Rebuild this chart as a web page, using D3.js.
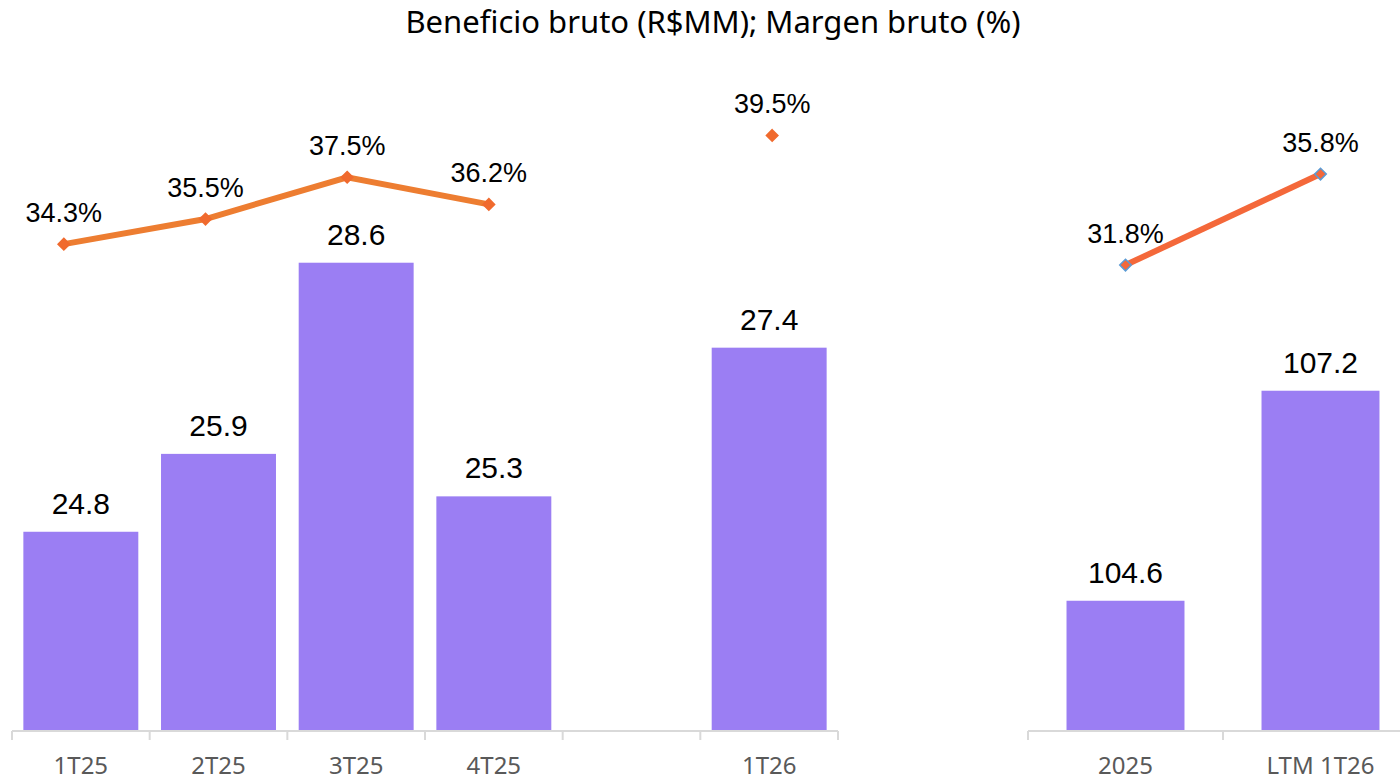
<!DOCTYPE html>
<html>
<head>
<meta charset="utf-8">
<script src="https://cdn.jsdelivr.net/npm/d3@7"></script>
<style>
  body { margin: 0; background: #fff; }
  svg { display: block; }
</style>
</head>
<body>
<div id="chart"></div>
<script>
// quarterly panel
let quarters = ["1T25", "2T25", "3T25", "4T25", "", "1T26"];
let quarterProfit = [24.8, 25.9, 28.6, 25.3, null, 27.4];
let quarterMargin = [34.3, 35.5, 37.5, 36.2, null, 39.5];

// annual panel
let years = ["2025", "LTM 1T26"];
let yearProfit = [104.6, 107.2];
let yearMargin = [31.8, 35.8];

let W = 1400, H = 780;
let baseY = 730;
let barColor = "#9B7EF3";
let axisColor = "#D9D9D9";
let labelFont = "'Liberation Sans', Arial, sans-serif";

let svg = d3.select("#chart").append("svg")
    .attr("width", W)
    .attr("height", H);

//title
svg.append("text")
    .attr("x", 713)
    .attr("y", 33)
    .style("text-anchor", "middle")
    .style("font-family", "'Noto Sans', sans-serif")
    .style("font-size", "31px")
    .style("fill", "#000")
    .text("Beneficio bruto (R$MM); Margen bruto (%)");

/**
 * draw one panel: bars + margin line + category axis
 */
function drawPanel(cats, profit, margin, opt) {
    let g = svg.append("g");

    let x = d3.scaleBand().domain(cats).range(opt.xRange).paddingInner(opt.pad).paddingOuter(opt.pad / 2);
    let xLine = d3.scaleBand().domain(cats).range(opt.lineRange);
    let y = d3.scaleLinear().domain(opt.barDomain).range([baseY, opt.barTop]);
    let yM = d3.scaleLinear().domain(opt.lineDomain).range(opt.lineYRange);

    let rows = cats.map(function (c, i) {
        return {cat: c, v: profit[i], m: margin[i]};
    });

    // bars
    g.selectAll("rect.bar")
        .data(rows.filter(function (d) { return d.v != null; }))
        .enter().append("rect")
        .attr("class", "bar")
        .attr("x", function (d) { return x(d.cat); })
        .attr("y", function (d) { return y(d.v); })
        .attr("width", x.bandwidth())
        .attr("height", function (d) { return baseY - y(d.v); })
        .style("fill", barColor);

    // bar values
    g.selectAll("text.val")
        .data(rows.filter(function (d) { return d.v != null; }))
        .enter().append("text")
        .attr("class", "val")
        .attr("x", function (d) { return x(d.cat) + x.bandwidth() / 2; })
        .attr("y", function (d) { return y(d.v) - 18; })
        .style("text-anchor", "middle")
        .style("font-family", labelFont)
        .style("font-size", "30px")
        .style("fill", "#000")
        .text(function (d) { return d.v.toFixed(1); });

    // axis line + boundary ticks
    let x0 = opt.xRange[0];
    let step = x.step();
    let axisG = g.append("g").attr("transform", "translate(0," + (baseY + 1) + ")");
    axisG.append("line")
        .attr("x1", x0).attr("x2", opt.axisEnd)
        .style("stroke", axisColor).style("stroke-width", 2);
    axisG.selectAll("line.tick")
        .data(d3.range(cats.length + 1))
        .enter().append("line")
        .attr("class", "tick")
        .attr("x1", function (i) { return x0 + i * step; })
        .attr("x2", function (i) { return x0 + i * step; })
        .attr("y1", 0).attr("y2", 9)
        .style("stroke", axisColor).style("stroke-width", 2);

    // category labels
    let ax = d3.axisBottom(x).tickSize(0).tickPadding(0);
    let labels = g.append("g")
        .attr("transform", "translate(0," + baseY + ")")
        .call(ax);
    labels.select(".domain").remove();
    labels.selectAll("text")
        .attr("y", 44)
        .attr("dy", 0)
        .style("font-family", "'Noto Sans', sans-serif")
        .style("font-size", "24px")
        .style("fill", "#595959");

    // margin line
    let line = d3.line()
        .defined(function (d) { return d.m != null; })
        .x(function (d) { return xLine(d.cat) + xLine.bandwidth() / 2; })
        .y(function (d) { return yM(d.m); });
    g.append("path")
        .datum(rows)
        .attr("d", line)
        .style("fill", "none")
        .style("stroke", opt.lineColor)
        .style("stroke-width", 6);

    let pts = rows.filter(function (d) { return d.m != null; });
    g.selectAll("path.mk")
        .data(pts)
        .enter().append("path")
        .attr("class", "mk")
        .attr("transform", function (d) {
            return "translate(" + (xLine(d.cat) + xLine.bandwidth() / 2) + "," + yM(d.m) + ")";
        })
        .attr("d", d3.symbol(d3.symbolDiamond2, 85)())
        .style("fill", opt.markColor)
        .style("stroke", opt.markStroke)
        .style("stroke-width", 1.5);

    g.selectAll("text.pct")
        .data(pts)
        .enter().append("text")
        .attr("class", "pct")
        .attr("x", function (d) { return xLine(d.cat) + xLine.bandwidth() / 2; })
        .attr("y", function (d) { return yM(d.m) - 22; })
        .style("text-anchor", "middle")
        .style("font-family", labelFont)
        .style("font-size", "27px")
        .style("fill", "#000")
        .text(function (d) { return d.m.toFixed(1) + "%"; });
}

drawPanel(quarters, quarterProfit, quarterMargin, {
    xRange: [12, 838],
    axisEnd: 838,
    pad: 0.165,
    lineRange: [-7, 843],
    barDomain: [22, 32],
    barTop: 22,
    lineDomain: [20, 40],
    lineYRange: [543, 125],
    lineColor: "#ED7D31",
    markColor: "#F06A2E",
    markStroke: "#F06A2E"
});

drawPanel(years, yearProfit, yearMargin, {
    xRange: [1028, 1418],
    axisEnd: 1400,
    pad: 0.395,
    lineRange: [1028, 1418],
    barDomain: [103, 112],
    barTop: 3,
    lineDomain: [30, 40],
    lineYRange: [306, 78.5],
    lineColor: "#F4683A",
    markColor: "#F4683A",
    markStroke: "#5B9BD5"
});
</script>
</body>
</html>
